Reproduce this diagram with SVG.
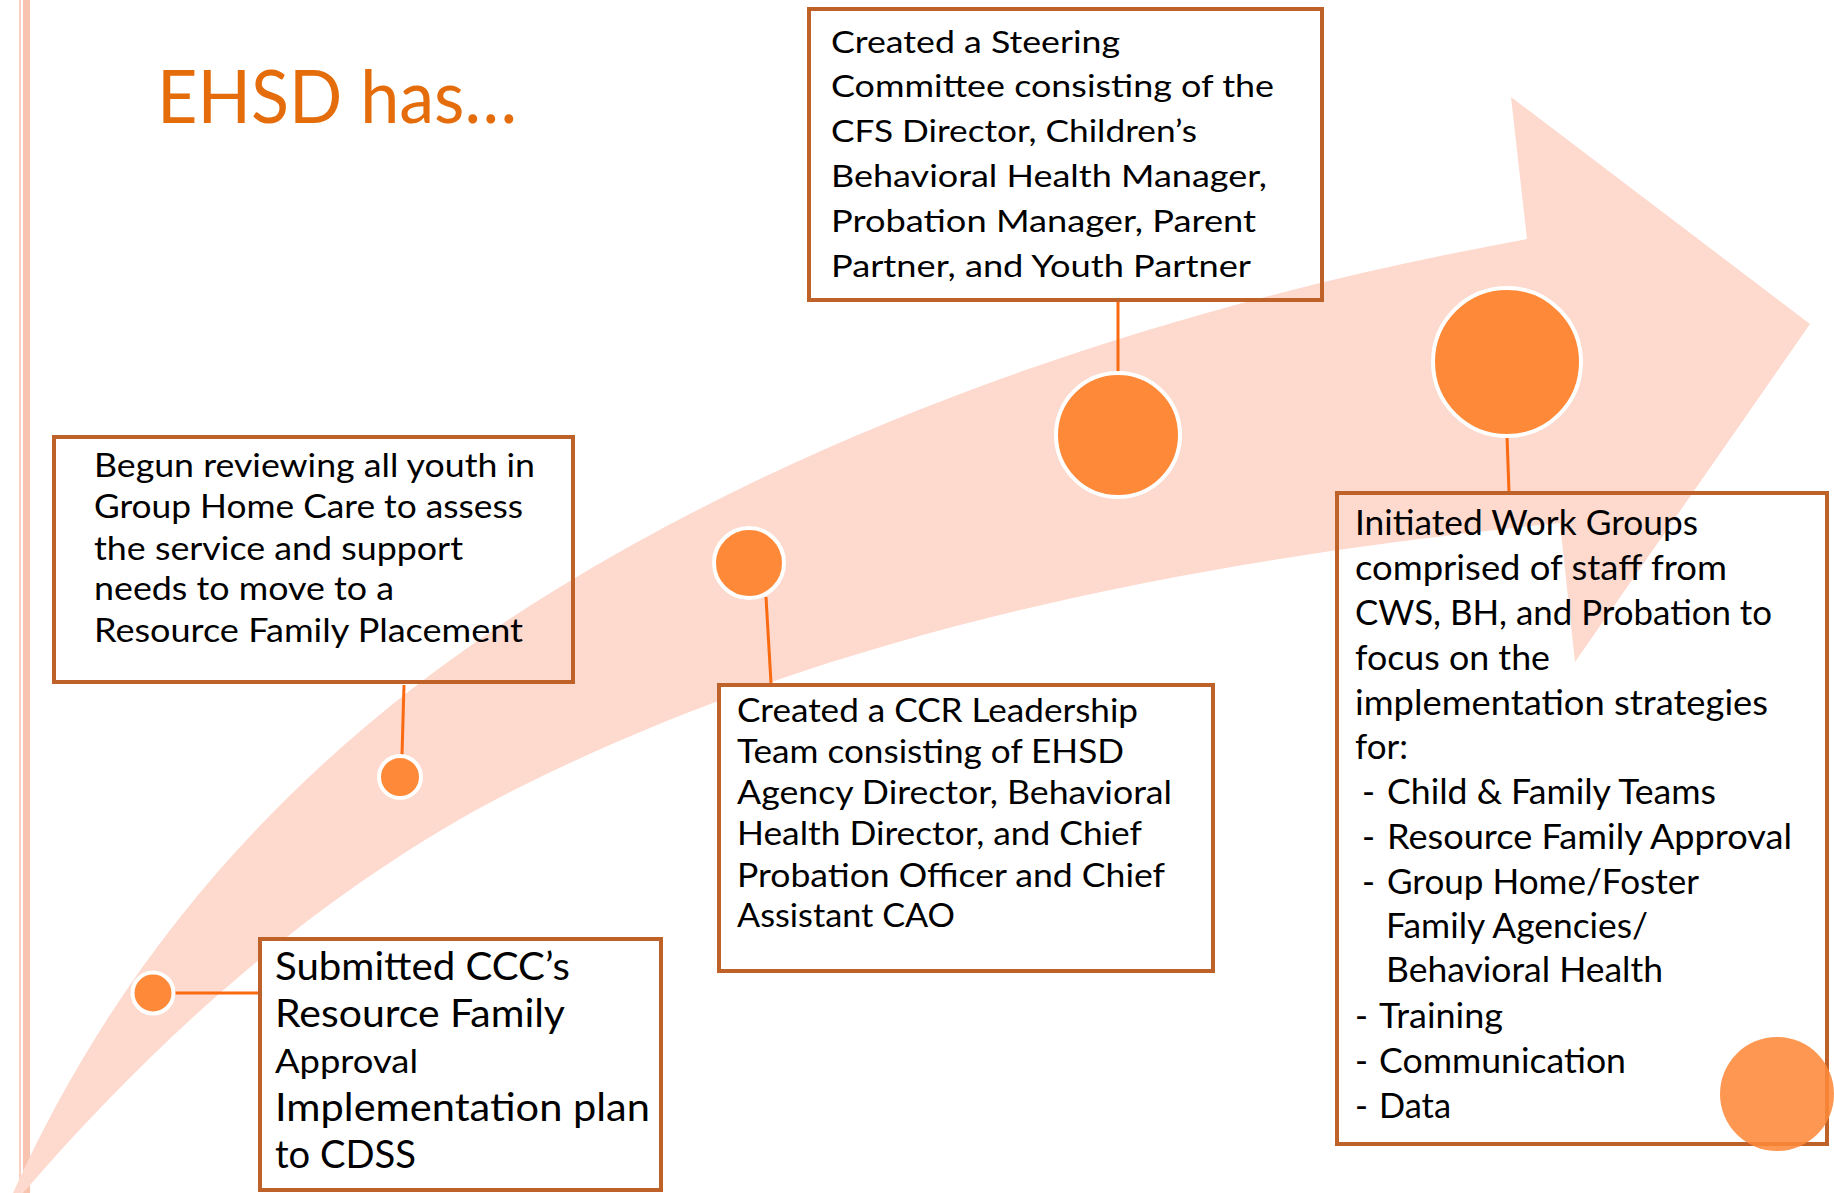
<svg xmlns="http://www.w3.org/2000/svg" width="1834" height="1193" viewBox="0 0 1834 1193">
<style>
.box{fill:none;stroke:#BE622A;stroke-width:4}
.boxw{fill:#FFFFFF;stroke:#BE622A;stroke-width:4}
.dot{fill:#FE8939;stroke:#FFFFFF;stroke-width:4}
.con{stroke:#FA6A10;stroke-width:3;fill:none}
.t{font-family:Lato,"Open Sans","Liberation Sans",sans-serif;fill:#000000}
.a{font-size:33px}
.b{font-size:31px}
.c{font-size:32px}
.e{font-size:35px}
.dl{font-size:38px}
.ds{font-size:33px}
</style>
<rect x="0" y="0" width="1834" height="1193" fill="#FFFFFF"/>
<g id="margin-lines">
<line x1="20" y1="0" x2="20" y2="1193" stroke="#FBD0C0" stroke-width="2"/>
<line x1="26.5" y1="0" x2="26.5" y2="1193" stroke="#F9C4AF" stroke-width="7"/>
</g>
<g id="timeline-arrow">
<path d="M13,1193 C136,920 328,729 560,587 C850,410 1193,300 1527,239 L1511,97 L1810,324 L1575,662 L1560,523 C1204,559 840,627 520,787 C329,883 163,1031 23,1193 Z" fill="#FDD9CE"/>
</g>
<g id="title">
<text class="t" x="157" y="123" font-size="74" fill="#E46C0A" style="fill:#E46C0A" textLength="360" lengthAdjust="spacingAndGlyphs">EHSD has…</text>
</g>
<g id="connectors">
<line class="con" x1="173" y1="993" x2="258" y2="993"/>
<line class="con" x1="404" y1="685" x2="402" y2="755"/>
<line class="con" x1="766" y1="597" x2="771" y2="683"/>
<line class="con" x1="1118" y1="301" x2="1118" y2="373"/>
<line class="con" x1="1507" y1="436" x2="1509" y2="492"/>
</g>
<g id="node-begun">
<rect class="box" x="54" y="437" width="519" height="245"/>
<text class="t a" x="94" y="477" textLength="441" lengthAdjust="spacingAndGlyphs">Begun reviewing all youth in</text>
<text class="t a" x="94" y="518" textLength="429" lengthAdjust="spacingAndGlyphs">Group Home Care to assess</text>
<text class="t a" x="94" y="560" textLength="369" lengthAdjust="spacingAndGlyphs">the service and support</text>
<text class="t a" x="94" y="600" textLength="300" lengthAdjust="spacingAndGlyphs">needs to move to a</text>
<text class="t a" x="94" y="642" textLength="429" lengthAdjust="spacingAndGlyphs">Resource Family Placement</text>
<circle class="dot" cx="400" cy="777" r="21"/>
</g>
<g id="node-steering">
<rect class="box" x="809" y="9" width="513" height="291"/>
<text class="t b" x="831" y="53" textLength="289" lengthAdjust="spacingAndGlyphs">Created a Steering</text>
<text class="t b" x="831" y="97" textLength="443" lengthAdjust="spacingAndGlyphs">Committee consisting of the</text>
<text class="t b" x="831" y="142" textLength="366" lengthAdjust="spacingAndGlyphs">CFS Director, Children’s</text>
<text class="t b" x="831" y="187" textLength="436" lengthAdjust="spacingAndGlyphs">Behavioral Health Manager,</text>
<text class="t b" x="831" y="232" textLength="425" lengthAdjust="spacingAndGlyphs">Probation Manager, Parent</text>
<text class="t b" x="831" y="277" textLength="420" lengthAdjust="spacingAndGlyphs">Partner, and Youth Partner</text>
<circle class="dot" cx="1118" cy="435" r="62"/>
</g>
<g id="node-leadership">
<rect class="boxw" x="719" y="685" width="494" height="286"/>
<text class="t c" x="737" y="722" textLength="401" lengthAdjust="spacingAndGlyphs">Created a CCR Leadership</text>
<text class="t c" x="737" y="763" textLength="387" lengthAdjust="spacingAndGlyphs">Team consisting of EHSD</text>
<text class="t c" x="737" y="804" textLength="435" lengthAdjust="spacingAndGlyphs">Agency Director, Behavioral</text>
<text class="t c" x="737" y="845" textLength="405" lengthAdjust="spacingAndGlyphs">Health Director, and Chief</text>
<text class="t c" x="737" y="887" textLength="428" lengthAdjust="spacingAndGlyphs">Probation Officer and Chief</text>
<text class="t c" x="737" y="927" textLength="218" lengthAdjust="spacingAndGlyphs">Assistant CAO</text>
<circle class="dot" cx="749" cy="563" r="35"/>
</g>
<g id="node-submitted">
<rect class="boxw" x="260" y="939" width="401" height="251"/>
<text class="t dl" x="275" y="980" textLength="295" lengthAdjust="spacingAndGlyphs">Submitted CCC’s</text>
<text class="t dl" x="275" y="1027" textLength="290" lengthAdjust="spacingAndGlyphs">Resource Family</text>
<text class="t ds" x="275" y="1073" textLength="143" lengthAdjust="spacingAndGlyphs">Approval</text>
<text class="t dl" x="275" y="1121" textLength="375" lengthAdjust="spacingAndGlyphs">Implementation plan</text>
<text class="t dl" x="275" y="1168" textLength="141" lengthAdjust="spacingAndGlyphs">to CDSS</text>
<circle class="dot" cx="153" cy="993" r="20.5"/>
</g>
<g id="node-workgroups">
<rect class="box" x="1337" y="493" width="490" height="651"/>
<text class="t e" x="1355" y="535" textLength="343" lengthAdjust="spacingAndGlyphs">Initiated Work Groups</text>
<text class="t e" x="1355" y="580" textLength="372" lengthAdjust="spacingAndGlyphs">comprised of staff from</text>
<text class="t e" x="1355" y="625" textLength="417" lengthAdjust="spacingAndGlyphs">CWS, BH, and Probation to</text>
<text class="t e" x="1355" y="670" textLength="195" lengthAdjust="spacingAndGlyphs">focus on the</text>
<text class="t e" x="1355" y="715" textLength="413" lengthAdjust="spacingAndGlyphs">implementation strategies</text>
<text class="t e" x="1355" y="759" textLength="53" lengthAdjust="spacingAndGlyphs">for:</text>
<text class="t e" x="1362" y="804">-</text>
<text class="t e" x="1387" y="804" textLength="329" lengthAdjust="spacingAndGlyphs">Child &amp; Family Teams</text>
<text class="t e" x="1362" y="849">-</text>
<text class="t e" x="1387" y="849" textLength="405" lengthAdjust="spacingAndGlyphs">Resource Family Approval</text>
<text class="t e" x="1362" y="894">-</text>
<text class="t e" x="1387" y="894" textLength="312" lengthAdjust="spacingAndGlyphs">Group Home/Foster</text>
<text class="t e" x="1386" y="938" textLength="262" lengthAdjust="spacingAndGlyphs">Family Agencies/</text>
<text class="t e" x="1386" y="982" textLength="277" lengthAdjust="spacingAndGlyphs">Behavioral Health</text>
<text class="t e" x="1355" y="1028">-</text>
<text class="t e" x="1379" y="1028" textLength="124" lengthAdjust="spacingAndGlyphs">Training</text>
<text class="t e" x="1355" y="1073">-</text>
<text class="t e" x="1379" y="1073" textLength="247" lengthAdjust="spacingAndGlyphs">Communication</text>
<text class="t e" x="1355" y="1118">-</text>
<text class="t e" x="1379" y="1118" textLength="72" lengthAdjust="spacingAndGlyphs">Data</text>
<circle class="dot" cx="1507" cy="362" r="74"/>
</g>
<g id="corner-dot">
<circle cx="1777" cy="1094" r="57" fill="#FE8939" fill-opacity="0.88"/>
</g>
</svg>
